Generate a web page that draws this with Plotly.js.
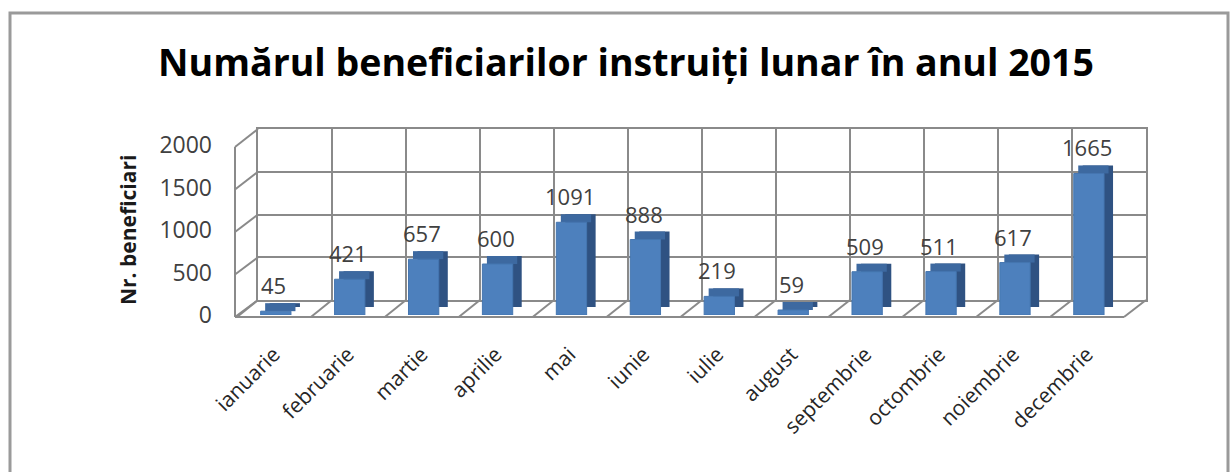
<!DOCTYPE html>
<html>
<head>
<meta charset="utf-8">
<script src="https://cdn.plot.ly/plotly-3.0.1.min.js"></script>
<style>
  html, body { margin: 0; padding: 0; background: #ffffff; }
  #chart { width: 1231px; height: 472px; }
</style>
</head>
<body>
<div id="chart"></div>
<script>
// ---- data ----
const months = ["ianuarie", "februarie", "martie", "aprilie", "mai", "iunie",
                "iulie", "august", "septembrie", "octombrie", "noiembrie", "decembrie"];
const beneficiari = [45, 421, 657, 600, 1091, 888, 219, 59, 509, 511, 617, 1665];
const yTicks = [0, 500, 1000, 1500, 2000];
const chartTitle = "Numărul beneficiarilor instruiți lunar în anul 2015";
const yTitle = "Nr. beneficiari";

// ---- geometry (pixels) ----
const W = 1231, H = 472;
const px = v => v / W;
const py = v => 1 - v / H;
// front plane (bars + labels)
const FL = 237, FR = 1124, FY = 315, FT = 145;
// back wall
const BL = 258, BR = 1146, BY = 300, BT = 129;
const unitsPerPx = 2000 / (FY - FT);
const depthUnits = 8 * unitsPerPx;         // 3D depth of bars, in value units
const catPx = (FR - FL) / months.length;
const depthCat = 9 / catPx;                // 3D depth in category units
const barW = 0.41, barOff = -0.18;

const font = "Open Sans, Liberation Sans, sans-serif";
const grid = "#8a8a8a";

const traces = [
  // invisible trace to hold the back-wall subplot
  { type: "bar", x: months, y: beneficiari.map(() => null), xaxis: "x", yaxis: "y",
    hoverinfo: "skip", showlegend: false },
  // side face (dark)
  { type: "bar", x: months, y: beneficiari, base: depthUnits, offset: barOff + depthCat, width: barW,
    xaxis: "x2", yaxis: "y2", marker: { color: "#2f5282" }, hoverinfo: "skip", showlegend: false },
  // top face
  { type: "bar", x: months, y: beneficiari.map(() => depthUnits), base: beneficiari,
    offset: barOff + depthCat * 0.5, width: barW,
    xaxis: "x2", yaxis: "y2", marker: { color: "#3d69a0" }, hoverinfo: "skip", showlegend: false },
  // front face
  { type: "bar", x: months, y: beneficiari, offset: barOff, width: barW,
    xaxis: "x2", yaxis: "y2", marker: { color: "#4d80bd", line: { color: "#4576b0", width: 1 } },
    showlegend: false }
];

const shapes = [];
// chart frame
shapes.push({ type: "rect", xref: "paper", yref: "paper", x0: px(10), x1: px(1228), y0: py(500), y1: py(13),
  line: { color: "#9a9a9a", width: 3 }, layer: "below" });
// left wall: front vertical edge + diagonals at gridlines
shapes.push({ type: "line", xref: "paper", yref: "paper", x0: px(FL - 2), x1: px(FL - 2), y0: py(FY + 2), y1: py(FT + 2),
  line: { color: grid, width: 2 }, layer: "below" });
yTicks.forEach(v => {
  const fy = FY + 2 - v / unitsPerPx;
  const by = BY - v * (BY - BT) / 2000;
  shapes.push({ type: "line", xref: "paper", yref: "paper", x0: px(FL - 2), y0: py(fy), x1: px(BL), y1: py(by),
    line: { color: grid, width: 2 }, layer: "below" });
});
// floor: front edge + diagonals at category boundaries
shapes.push({ type: "line", xref: "paper", yref: "paper", x0: px(FL - 2), x1: px(FR), y0: py(FY + 2), y1: py(FY + 2),
  line: { color: grid, width: 2 }, layer: "below" });
for (let i = 0; i <= months.length; i++) {
  const fx = FL + i * (FR - FL) / months.length;
  const bx = BL + i * (BR - BL) / months.length;
  shapes.push({ type: "line", xref: "paper", yref: "paper", x0: px(fx), y0: py(FY + 2), x1: px(bx), y1: py(BY),
    line: { color: grid, width: 2 }, layer: "below" });
}

// value labels
const annotations = months.map((m, i) => ({
  x: m, y: beneficiari[i], xref: "x2", yref: "y2", text: String(beneficiari[i]),
  showarrow: false, yanchor: "middle", yshift: 26, xshift: 0,
  font: { family: font, size: 22, color: "#404040" }
}));
// y axis title
annotations.push({ xref: "paper", yref: "paper", x: px(128), y: py(230), xanchor: "center", yanchor: "middle",
  text: "<b>" + yTitle + "</b>",
  textangle: -90, showarrow: false, font: { family: font, size: 21, color: "#1a1a1a" } });

const layout = {
  width: W, height: H,
  margin: { l: 0, r: 0, t: 0, b: 0 },
  paper_bgcolor: "#ffffff", plot_bgcolor: "rgba(0,0,0,0)",
  barmode: "overlay",
  showlegend: false,
  title: { text: "<b>" + chartTitle + "</b>", x: px(626), xref: "paper", xanchor: "center",
    y: py(63), yref: "paper", yanchor: "middle",
    font: { family: font, size: 37.5, color: "#000000" } },
  // back wall
  xaxis: { domain: [px(BL), px(BR)], anchor: "y", type: "category", range: [-0.5, 11.5],
    tickson: "boundaries", showgrid: true, gridcolor: grid, gridwidth: 2,
    showline: true, mirror: true, linecolor: grid, linewidth: 2,
    showticklabels: false, ticks: "", zeroline: false, fixedrange: true },
  yaxis: { domain: [py(BY), py(BT)], anchor: "x", range: [0, 2000], tickvals: yTicks,
    showgrid: true, gridcolor: grid, gridwidth: 2, showline: true, mirror: true, linecolor: grid, linewidth: 2,
    showticklabels: false, ticks: "", zeroline: false, fixedrange: true },
  // front plane
  xaxis2: { domain: [px(FL), px(FR)], anchor: "y2", type: "category", range: [-0.5, 11.5],
    showgrid: false, showline: false, zeroline: false, ticks: "", tickangle: -45,
    ticklabelstandoff: 22,
    tickfont: { family: font, size: 21, color: "#262626" }, fixedrange: true },
  yaxis2: { domain: [py(FY), py(FT)], anchor: "x2", range: [0, 2000], tickvals: yTicks,
    showgrid: false, showline: false, zeroline: false, ticks: "", ticklabelstandoff: 24,
    tickfont: { family: font, size: 23, color: "#404040" }, fixedrange: true },
  shapes: shapes,
  annotations: annotations
};

Plotly.newPlot("chart", traces, layout, { displayModeBar: false, staticPlot: true });
</script>
</body>
</html>
